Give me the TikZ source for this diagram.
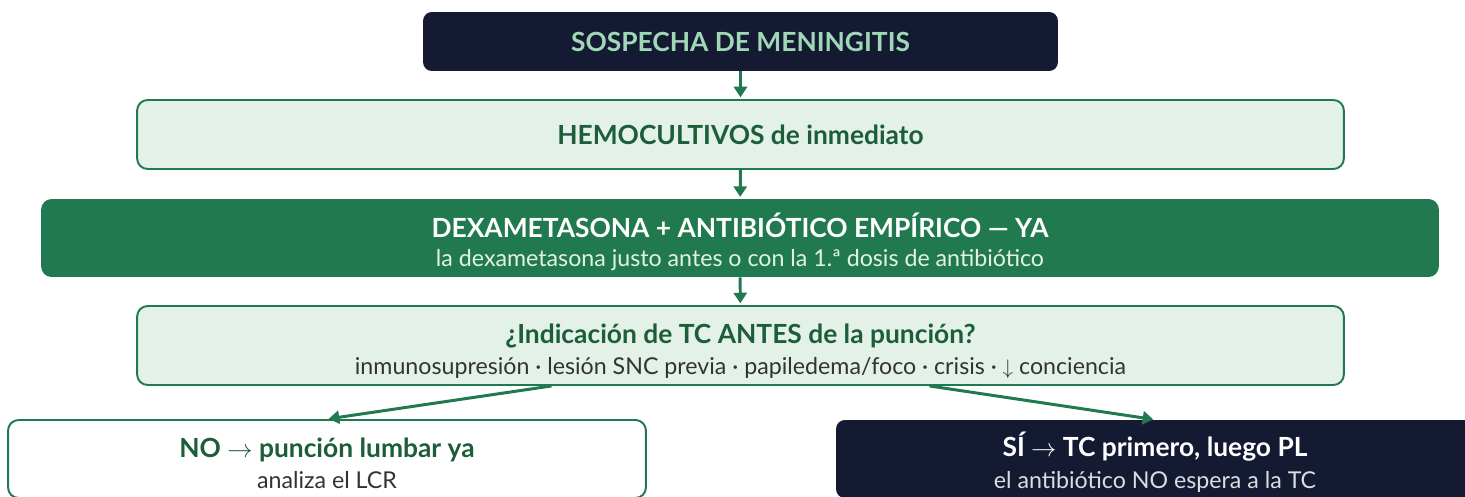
\documentclass[tikz,border=0pt]{standalone}
\usepackage{fontspec}
\setmainfont{Lato}
\usetikzlibrary{arrows.meta,calc}

\definecolor{navy}{HTML}{151A33}
\definecolor{mgreen}{HTML}{217A4F}
\definecolor{mlight}{HTML}{E3F1E9}
\definecolor{mdark}{HTML}{1B5E39}
\definecolor{mmint}{HTML}{A0D8B7}
\definecolor{mgray}{HTML}{333333}

\newcommand{\hd}{\fontsize{15}{17}\selectfont\bfseries}
\newcommand{\sub}{\fontsize{13.2}{17}\selectfont}
% struts so every two-line box sits the same way
\newcommand{\toprl}{\rule{0pt}{19.4pt}}
\newcommand{\botrl}{\rule[-3.8pt]{0pt}{0pt}}

\begin{document}
\begin{tikzpicture}[x=0.02cm,y=-0.02cm,
  >={Triangle[length=6pt,width=7.5pt]},
  lightbox/.style={draw=mgreen,line width=1.1pt,rounded corners=6pt,fill=mlight,align=center,inner sep=0pt},
  darkbox/.style={fill=navy,rounded corners=5pt,align=center,inner sep=0pt},
  greenbox/.style={fill=mgreen,rounded corners=6pt,align=center,inner sep=0pt},
  whitebox/.style={draw=mgreen,line width=1.1pt,rounded corners=6pt,fill=white,align=center,inner sep=0pt},
  arr/.style={->,draw=mgreen,line width=1.7pt,shorten >=1pt}]
\useasboundingbox (0,0) rectangle (1465,497);
\clip (0,0) rectangle (1465,497);

\node[darkbox,minimum width=12.7cm,minimum height=1.18cm,text=mmint] (sos) at (740.5,41.5) {\hd SOSPECHA DE MENINGITIS};
\node[lightbox,minimum width=24.14cm,minimum height=1.38cm,text=mdark] (hemo) at (740.5,134.5) {\hd HEMOCULTIVOS de inmediato};
\node[greenbox,minimum width=27.96cm,minimum height=1.56cm] (dexa) at (740,238)
  {{\hd\color{white}\toprl DEXAMETASONA + ANTIBIÓTICO EMPÍRICO — YA}\\[4.5pt]
   {\sub\color{mlight} la dexametasona justo antes o con la 1.ª dosis de antibiótico\botrl}};
\node[lightbox,minimum width=24.14cm,minimum height=1.58cm] (tc) at (740.5,345.5)
  {{\hd\color{mdark}\toprl ¿Indicación de TC ANTES de la punción?}\\[4.5pt]
   {\sub\color{mgray} inmunosupresión · lesión SNC previa · papiledema/foco · crisis · $\downarrow$ conciencia\botrl}};
\node[whitebox,minimum width=12.76cm,minimum height=1.56cm] (no) at (327,459)
  {{\hd\color{mdark}\toprl NO $\rightarrow$ punción lumbar ya}\\[4.5pt]
   {\sub\color{mgray} analiza el LCR\botrl}};
\node[darkbox,minimum width=12.76cm,minimum height=1.56cm] (si) at (1155,459)
  {{\hd\color{white}\toprl SÍ $\rightarrow$ TC primero, luego PL}\\[4.5pt]
   {\sub\color{white!85!navy} el antibiótico NO espera a la TC\botrl}};

% flujo principal
\draw[arr] (sos) -- (hemo);
\draw[arr] (hemo) -- (dexa);
\draw[arr] (dexa) -- (tc);
% ramas
\draw[arr] ($(tc.south)+(-189,0)$) -- (no.north);
\draw[arr] ($(tc.south)+(189,0)$) -- (si.north);
\end{tikzpicture}
\end{document}
